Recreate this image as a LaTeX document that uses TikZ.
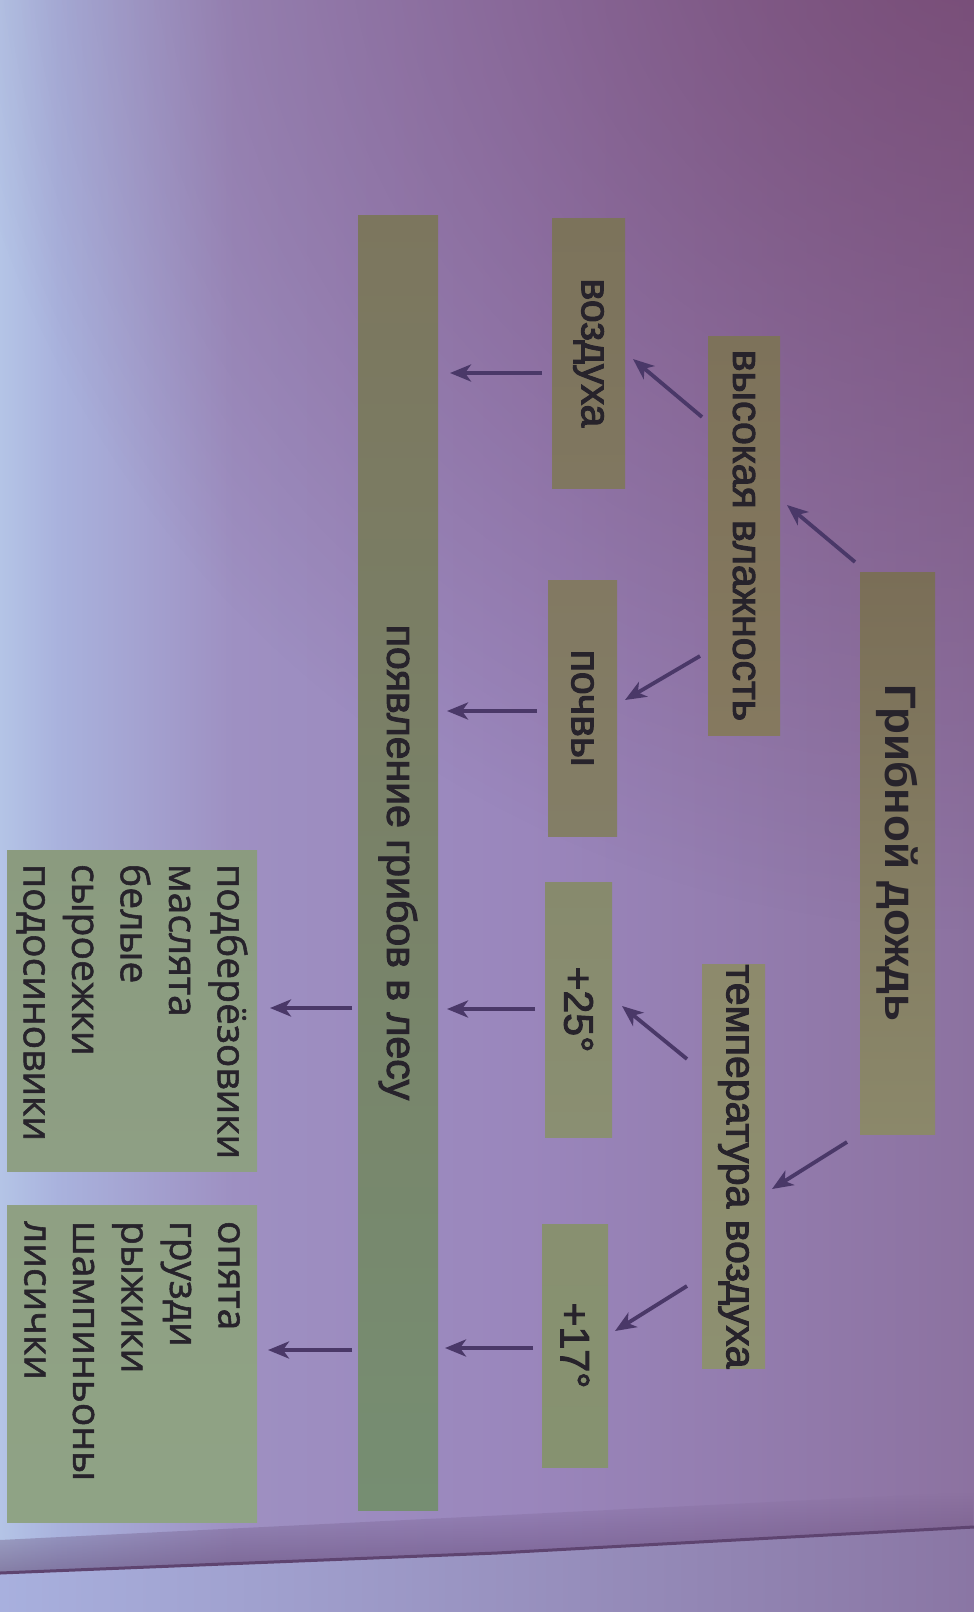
\documentclass[tikz,border=0pt]{standalone}
\usepackage{fontspec}
\setmainfont{Liberation Sans}
\newfontfamily\labfont{Liberation Sans}[FakeBold=2.4]
\newfontfamily\listfont{Open Sans}[FakeBold=1.4]
\usetikzlibrary{arrows.meta,fadings}
\definecolor{txt}{HTML}{27232B}
\definecolor{arrowc}{HTML}{4A3868}
\definecolor{bg0}{HTML}{B4C4E6}
\definecolor{bg1}{HTML}{A9B2DD}
\definecolor{bg2}{HTML}{9E90C2}
\definecolor{bg3}{HTML}{9A86BC}
\definecolor{bg4}{HTML}{8C72A0}
\definecolor{mauve}{HTML}{72416A}
\definecolor{foldc}{HTML}{5E4470}
\definecolor{floorL}{HTML}{A8B0DE}
\definecolor{floorR}{HTML}{8A76A4}
\definecolor{tiA}{HTML}{7A6E57}\definecolor{tiB}{HTML}{8B886A}
\definecolor{vyA}{HTML}{7D725A}\definecolor{vyB}{HTML}{85795F}
\definecolor{teA}{HTML}{8D8A6C}\definecolor{teB}{HTML}{8D9070}
\definecolor{voA}{HTML}{7C735B}\definecolor{voB}{HTML}{807760}
\definecolor{poA}{HTML}{827962}\definecolor{poB}{HTML}{837E66}
\definecolor{pfA}{HTML}{878A6D}\definecolor{pfB}{HTML}{8A8F72}
\definecolor{psA}{HTML}{889070}\definecolor{psB}{HTML}{869270}
\definecolor{baA}{HTML}{7C765E}\definecolor{baB}{HTML}{768E72}
\definecolor{laA}{HTML}{8B9B7F}\definecolor{laB}{HTML}{8E9F84}
\definecolor{lbA}{HTML}{8FA083}\definecolor{lbB}{HTML}{8FA385}
\pgfdeclarehorizontalshading{bgh}{100bp}{color(0bp)=(bg0); color(25bp)=(bg0); color(28bp)=(bg1); color(37bp)=(bg2); color(52bp)=(bg3); color(75bp)=(bg4); color(100bp)=(bg4)}
\tikzfading[name=radfade, inner color=transparent!0, outer color=transparent!100]
\tikzfading[name=upfade, top color=transparent!100, bottom color=transparent!0]
\begin{document}
\begin{tikzpicture}[x=1pt,y=-1pt,
  box/.style={rotate=-90, inner sep=0pt, outer sep=0pt, text=txt, align=center,
    font=\labfont\fontsize{41}{46}\selectfont},
  listbox/.style={rotate=-90, inner ysep=0pt, outer sep=0pt, text=txt, align=left,
    font=\listfont\fontsize{39}{48.5}\selectfont},
  arr/.style={draw=arrowc, line width=3.8pt,
    -{Stealth[length=21pt,width=17pt,inset=6pt]}},
]
\useasboundingbox (0,0) rectangle (974,1612);
% background (photo of the page)
\begin{scope}
\clip (0,0) rectangle (974,1612);
\shade[shading=bgh] (0,0) rectangle (974,1612);
\fill[mauve, path fading=radfade, fill opacity=0.8] (990,-120) circle (1050);
\fill[foldc, path fading=upfade, fill opacity=0.55] (0,1540) -- (974,1492) -- (974,1527) -- (497,1553) -- (0,1573) -- cycle;
\shade[left color=floorL, right color=floorR] (0,1573) -- (497,1553) -- (974,1527) -- (974,1612) -- (0,1612) -- cycle;
\draw[foldc, line width=3pt] (0,1573) -- (497,1553) -- (974,1527);
\end{scope}

% boxes
\node[box, top color=tiA, bottom color=tiB, minimum width=562pt, minimum height=75pt,
  font=\fontsize{44}{48}\selectfont\bfseries] (title) at (897.5,853) {Грибной дождь};
\node[box, top color=vyA, bottom color=vyB, minimum width=399pt, minimum height=72pt] (vys) at (744,535.5) {высокая влажность};
\node[box, top color=teA, bottom color=teB, minimum width=381pt, minimum height=63pt] (temp) at (733.5,1166.5) {температура воздуха};
\node[box, top color=voA, bottom color=voB, minimum width=270pt, minimum height=73pt] (vozd) at (588.5,353) {воздуха};
\node[box, top color=poA, bottom color=poB, minimum width=256pt, minimum height=69pt] (pochv) at (582.5,708) {почвы};
\node[box, top color=pfA, bottom color=pfB, minimum width=255pt, minimum height=67pt] (p25) at (578.5,1009.5) {+25°};
\node[box, top color=psA, bottom color=psB, minimum width=243pt, minimum height=66pt] (p17) at (575,1345.5) {+17°};
\node[box, top color=baA, bottom color=baB, minimum width=1295pt, minimum height=80pt] (bar) at (398,862.5) {появление грибов в лесу};
\node[listbox, top color=laA, bottom color=laB, minimum width=321pt, minimum height=250pt,
  text width=293pt, inner xsep=14pt] (list1) at (132,1010.5)
  {подберёзовики\\маслята\\белые\\сыроежки\\подосиновики};
\node[listbox, top color=lbA, bottom color=lbB, minimum width=317pt, minimum height=250pt,
  text width=285pt, inner xsep=16pt] (list2) at (132,1363.5)
  {опята\\грузди\\рыжики\\шампиньоны\\лисички};

% connectors
\draw[arr] ([shift={(-42.5,-291)}]title.center) -- ([shift={(43,-30.5)}]vys.center);
\draw[arr] ([shift={(-50.5,289)}]title.center) -- ([shift={(38.5,22.5)}]temp.center);
\draw[arr] ([shift={(-42,-118.5)}]vys.center) -- ([shift={(44.5,6)}]vozd.center);
\draw[arr] ([shift={(-44,120.5)}]vys.center) -- ([shift={(42.5,-8)}]pochv.center);
\draw[arr] ([shift={(-46.5,-107.5)}]temp.center) -- ([shift={(43.5,-3.5)}]p25.center);
\draw[arr] ([shift={(-46.5,119.5)}]temp.center) -- ([shift={(40,-14.5)}]p17.center);
\draw[arr] ([shift={(-46.5,20)}]vozd.center) -- ([shift={(52,-489.5)}]bar.center);
\draw[arr] ([shift={(-45.5,3)}]pochv.center) -- ([shift={(49,-151.5)}]bar.center);
\draw[arr] ([shift={(-43.5,-0.5)}]p25.center) -- ([shift={(49,146.5)}]bar.center);
\draw[arr] ([shift={(-42,2.5)}]p17.center) -- ([shift={(47,485.5)}]bar.center);
\draw[arr] ([shift={(-46,145.5)}]bar.center) -- ([shift={(138,-2.5)}]list1.center);
\draw[arr] ([shift={(-46,487.5)}]bar.center) -- ([shift={(136,-13.5)}]list2.center);
\end{tikzpicture}
\end{document}
